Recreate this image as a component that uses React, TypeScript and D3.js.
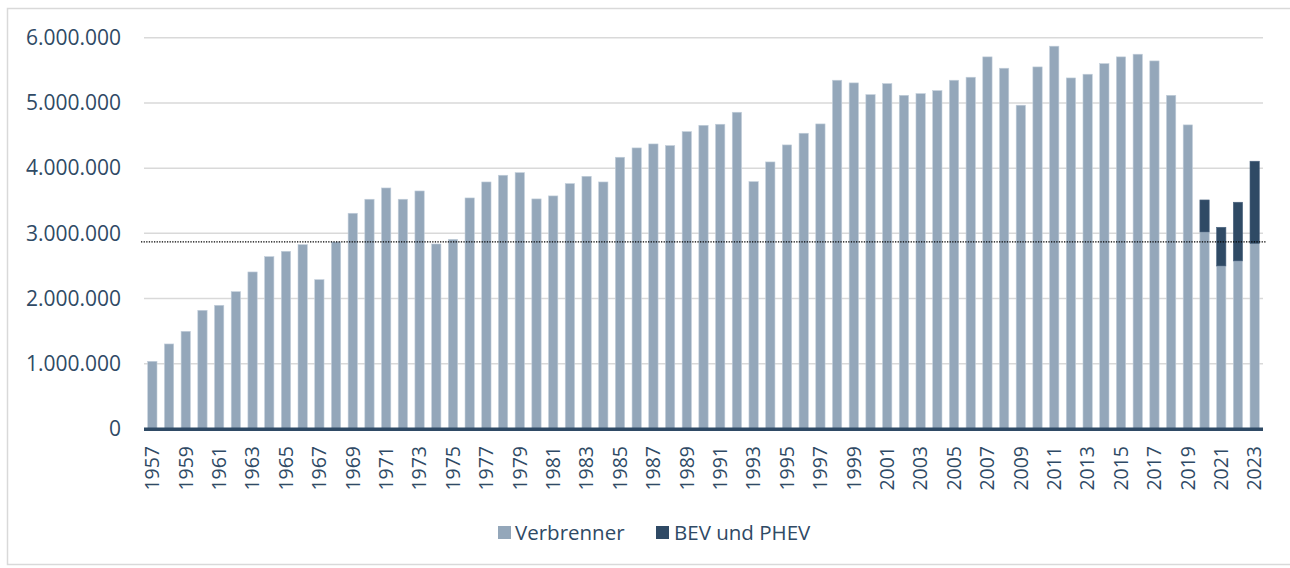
import React from "react";
import * as d3 from "d3";

const years: number[] = [
  1957, 1958, 1959, 1960, 1961, 1962, 1963, 1964, 1965, 1966, 1967, 1968, 1969, 1970,
  1971, 1972, 1973, 1974, 1975, 1976, 1977, 1978, 1979, 1980, 1981, 1982, 1983, 1984,
  1985, 1986, 1987, 1988, 1989, 1990, 1991, 1992, 1993, 1994, 1995, 1996, 1997, 1998,
  1999, 2000, 2001, 2002, 2003, 2004, 2005, 2006, 2007, 2008, 2009, 2010, 2011, 2012,
  2013, 2014, 2015, 2016, 2017, 2018, 2019, 2020, 2021, 2022, 2023,
];

const verbrenner: number[] = [
  1038000, 1304000, 1498000, 1820000, 1897000, 2106000, 2408000, 2643000, 2725000, 2827000,
  2290000, 2868000, 3308000, 3523000, 3696000, 3523000, 3650000, 2837000, 2909000, 3543000,
  3788000, 3891000, 3931000, 3528000, 3574000, 3763000, 3875000, 3788000, 4167000, 4310000,
  4371000, 4346000, 4560000, 4657000, 4673000, 4857000, 3793000, 4095000, 4356000, 4535000,
  4678000, 5348000, 5307000, 5127000, 5296000, 5117000, 5143000, 5189000, 5348000, 5394000,
  5706000, 5532000, 4965000, 5552000, 5870000, 5383000, 5440000, 5603000, 5706000, 5747000,
  5644000, 5117000, 4663000, 3021000, 2500000, 2577000, 2842000,
];

const bevPhevYears: number[] = [2020, 2021, 2022, 2023];
const bevPhev: number[] = [491000, 593000, 900000, 1264000];

const yTicks: number[] = [0, 1000000, 2000000, 3000000, 4000000, 5000000, 6000000];
const referenceLevel = 2870000;

const seriesNames = ["Verbrenner", "BEV und PHEV"];
const colors = ["#94a7ba", "#2f4a65"];
const textColor = "#2f4a65";
const font = "'Open Sans', 'Noto Sans', sans-serif";

const W = 1290;
const H = 568;

export default function App() {
  const x = d3.scaleBand<number>().domain(years).range([144, 1263]).paddingInner(0.443).paddingOuter(0.2215);
  const y = d3.scaleLinear().domain([0, 6000000]).range([429, 37.7]);
  const locale = d3.formatLocale({ decimal: ",", thousands: ".", grouping: [3], currency: ["", " €"] });
  const fmt = locale.format(",d");

  const rows = years.map((yr, i) => {
    const j = bevPhevYears.indexOf(yr);
    return { year: yr, verbrenner: verbrenner[i], bev: j >= 0 ? bevPhev[j] : 0 };
  });
  const stacked = d3.stack<any>().keys(["verbrenner", "bev"])(rows);

  const bw = x.bandwidth();

  return (
    <svg width={W} height={H} style={{ position: "absolute", left: 0, top: 0, background: "#fff" }}>
      <rect x={7.5} y={8.5} width={W} height={556} fill="#fff" stroke="#d9d9d9" strokeWidth={1.5} />
      {yTicks.map((t) =>
        t === 0 ? null : (
          <line key={"g" + t} x1={144} x2={1263} y1={y(t)} y2={y(t)} stroke="#d9d9d9" strokeWidth={1.5} />
        )
      )}
      {yTicks.map((t) => (
        <text
          key={"yl" + t}
          x={121}
          y={y(t)}
          dy="0.35em"
          textAnchor="end"
          fontFamily={font}
          fontSize={21}
          fill={textColor}
        >
          {fmt(t)}
        </text>
      ))}
      {stacked.map((s, si) => (
        <g key={"s" + si}>
          {s.map((d: any) => {
            const h = y(d[0]) - y(d[1]);
            if (h <= 0) return null;
            return (
              <rect
                key={d.data.year}
                x={x(d.data.year)}
                y={y(d[1])}
                width={bw}
                height={h}
                fill={colors[si]}
                stroke={si === 0 ? "#c3cfdb" : "#4d6580"}
                strokeWidth={0.6}
              />
            );
          })}
        </g>
      ))}
      <line
        x1={141}
        x2={1266}
        y1={y(referenceLevel)}
        y2={y(referenceLevel)}
        stroke="#000"
        strokeWidth={1.2}
        strokeDasharray="1.3,1.3"
      />
      <line x1={144} x2={1263} y1={429.3} y2={429.3} stroke="#2f4a65" strokeWidth={3.5} />
      {years.map((yr, i) =>
        i % 2 === 0 ? (
          <text
            key={"xl" + yr}
            transform={`translate(${(x(yr) as number) + bw / 2},446) rotate(-90)`}
            dy="0.35em"
            textAnchor="end"
            fontFamily={font}
            fontSize={19.5}
            fill={textColor}
          >
            {yr}
          </text>
        ) : null
      )}
      <rect x={498} y={526} width={13} height={13} fill={colors[0]} />
      <text x={515} y={539.5} fontFamily={font} fontSize={20.5} fill={textColor}>
        {seriesNames[0]}
      </text>
      <rect x={656} y={526} width={13} height={13} fill={colors[1]} />
      <text x={674} y={539.5} fontFamily={font} fontSize={20.5} fill={textColor}>
        {seriesNames[1]}
      </text>
    </svg>
  );
}
